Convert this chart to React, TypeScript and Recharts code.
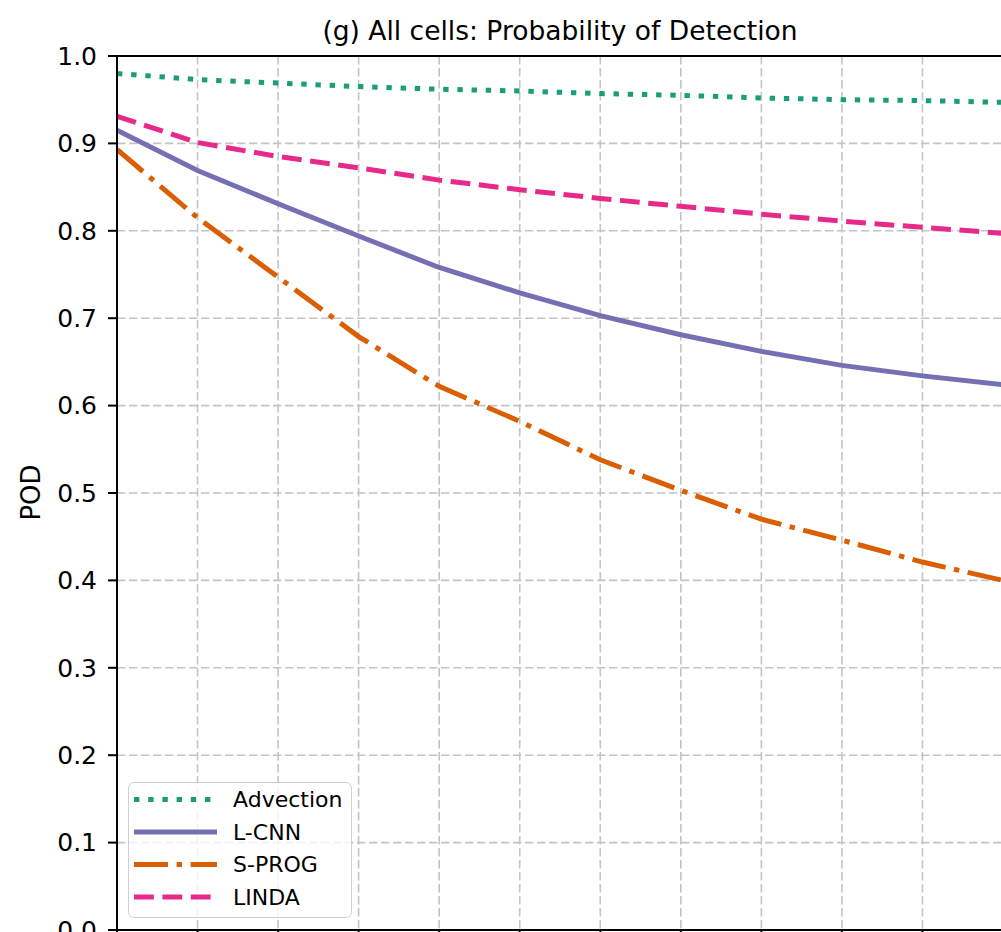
import React from 'react';
import { LineChart, Line, XAxis, YAxis, CartesianGrid, ReferenceLine, Label } from 'recharts';

const leadTimes = [5, 10, 15, 20, 25, 30, 35, 40, 45, 50, 55, 60];
const advection = [0.980, 0.973, 0.969, 0.965, 0.962, 0.960, 0.957, 0.955, 0.952, 0.950, 0.949, 0.947];
const lcnn = [0.915, 0.869, 0.831, 0.794, 0.758, 0.729, 0.703, 0.681, 0.662, 0.646, 0.634, 0.624];
const sprog = [0.893, 0.815, 0.747, 0.679, 0.622, 0.582, 0.538, 0.503, 0.470, 0.446, 0.421, 0.400];
const linda = [0.931, 0.901, 0.885, 0.872, 0.858, 0.847, 0.837, 0.828, 0.819, 0.811, 0.804, 0.797];
const yTicks = [0, 0.1, 0.2, 0.3, 0.4, 0.5, 0.6, 0.7, 0.8, 0.9, 1.0];
const xTicks = [5, 10, 15, 20, 25, 30, 35, 40, 45, 50, 55, 60];

const titleText = '(g) All cells: Probability of Detection';
const yLabelText = 'POD';

const series = [
  { key: 'advection', name: 'Advection', color: '#1b9e77', dash: '5.4 8.8' },
  { key: 'lcnn', name: 'L-CNN', color: '#7570b3', dash: undefined as string | undefined },
  { key: 'sprog', name: 'S-PROG', color: '#d95f02', dash: '34 8.6 5.4 8.6' },
  { key: 'linda', name: 'LINDA', color: '#e7298a', dash: '19.8 8.6' },
];

const data = leadTimes.map((t, i) => ({
  lead: t,
  advection: advection[i],
  lcnn: lcnn[i],
  sprog: sprog[i],
  linda: linda[i],
}));

const FONT = "'DejaVu Sans', sans-serif";
const LW = 5;

const YLabel = () => (
  <text
    x={40}
    y={492.5}
    transform="rotate(-90 40 492.5)"
    textAnchor="middle"
    fontSize={26}
    fontFamily={FONT}
    fill="#000"
  >
    {yLabelText}
  </text>
);

export default function App() {
  return (
    <div
      style={{
        position: 'absolute',
        left: 0,
        top: 0,
        width: 1001,
        height: 932,
        overflow: 'hidden',
        background: '#fff',
        fontFamily: FONT,
      }}
    >
      <div
        style={{
          position: 'absolute',
          left: 60,
          width: 1000,
          top: 18,
          textAlign: 'center',
          fontSize: 26.5,
          lineHeight: 1,
          color: '#000',
          fontFamily: FONT,
          whiteSpace: 'nowrap',
        }}
      >
        {titleText}
      </div>
      <LineChart
        width={1040}
        height={980}
        data={data}
        margin={{ top: 56, right: 37, bottom: 10, left: 0 }}
        style={{ position: 'absolute', left: 0, top: 0 }}
      >
        <CartesianGrid
          stroke="#c4c4c4"
          strokeWidth={1.6}
          strokeDasharray="8.4 3.6"
        />
        <XAxis
          dataKey="lead"
          type="number"
          domain={[5, 60]}
          ticks={xTicks}
          allowDataOverflow
          height={40}
          axisLine={{ stroke: '#000', strokeWidth: 2 }}
          tickLine={{ stroke: '#000', strokeWidth: 2 }}
          tickSize={9}
          tick={{ fontSize: 25, fill: '#000', fontFamily: FONT }}
        />
        <YAxis
          type="number"
          domain={[0, 1]}
          ticks={yTicks}
          allowDataOverflow
          width={117}
          axisLine={{ stroke: '#000', strokeWidth: 2 }}
          tickLine={{ stroke: '#000', strokeWidth: 2 }}
          tickSize={9}
          tickMargin={11}
          tickFormatter={(v: number) => v.toFixed(1)}
          tick={{ fontSize: 25, fill: '#000', fontFamily: FONT }}
        >
          <Label content={() => <YLabel />} />
        </YAxis>
        <ReferenceLine y={1} stroke="#000" strokeWidth={2} />
        <ReferenceLine x={60} stroke="#000" strokeWidth={2} />
        {series.map((s) => (
          <Line
            key={s.key}
            dataKey={s.key}
            name={s.name}
            type="linear"
            stroke={s.color}
            strokeWidth={LW}
            strokeDasharray={s.dash}
            dot={false}
            activeDot={false}
            isAnimationActive={false}
          />
        ))}
      </LineChart>
      <div
        style={{
          position: 'absolute',
          left: 128,
          top: 782,
          width: 222,
          height: 134,
          border: '1.5px solid #d0d0d0',
          borderRadius: 6,
          background: 'rgba(255,255,255,0.8)',
        }}
      >
        <svg width={222} height={134} style={{ position: 'absolute', left: 0, top: 0 }}>
          {series.map((s, i) => {
            const cy = 16.5 + i * 32.5;
            return (
              <g key={s.key}>
                <line
                  x1={5}
                  x2={88}
                  y1={cy}
                  y2={cy}
                  stroke={s.color}
                  strokeWidth={LW}
                  strokeDasharray={s.dash}
                />
                <text
                  x={104}
                  y={cy}
                  dy="0.36em"
                  fontSize={22}
                  fontFamily={FONT}
                  fill="#000"
                >
                  {s.name}
                </text>
              </g>
            );
          })}
        </svg>
      </div>
    </div>
  );
}
